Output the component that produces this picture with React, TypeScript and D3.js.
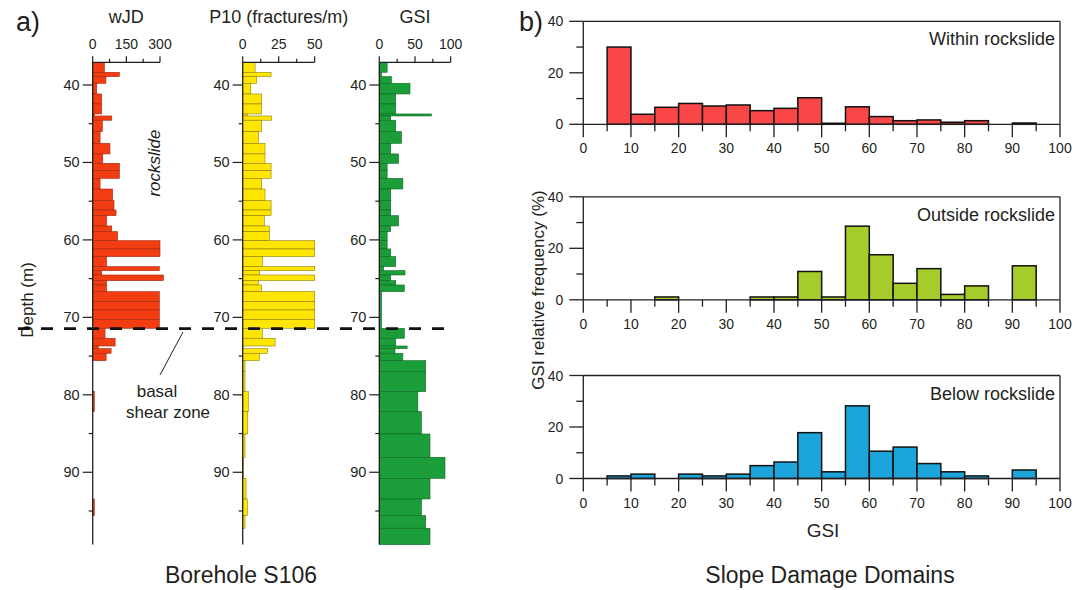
import React from "react";
import * as d3 from "d3";

// ---- Borehole S106: logged intervals (depth in m) and their values ----
const intervalTop = [
  37.07, 38.36, 38.92, 39.78, 41.16, 42.45, 43.74, 44.0, 44.55, 46.02, 47.53, 48.9,
  50.11, 51.06, 52.05, 53.43, 54.93, 56.14, 56.87, 58.2, 58.93, 60.1, 61.17, 62.16,
  63.45, 63.97, 64.53, 65.26, 65.82, 66.68, 67.97, 69.05, 70.25, 71.41, 72.7, 73.7,
  74.04, 74.64, 75.59, 77.0, 79.59, 82.17, 85.06, 88.07, 90.78, 93.45, 95.6, 97.23,
];
const intervalBase = [
  38.36, 38.92, 39.78, 41.16, 42.45, 43.74, 44.0, 44.55, 46.02, 47.53, 48.9, 50.11,
  51.06, 52.05, 53.43, 54.93, 56.14, 56.87, 58.2, 58.93, 60.1, 61.17, 62.16, 63.45,
  63.97, 64.53, 65.26, 65.82, 66.68, 67.97, 69.05, 70.25, 71.41, 72.7, 73.7, 74.04,
  74.64, 75.59, 77.0, 79.59, 82.17, 85.06, 88.07, 90.78, 93.45, 95.6, 97.23, 99.34,
];
const wjdValues = [
  52, 119, 59, 18, 40, 40, 7, 85, 43, 33, 77, 45,
  119, 119, 33, 89, 95, 104, 62, 85, 111, 300, 300, 62,
  297, 40, 315, 62, 62, 297, 297, 297, 297, 55, 100, 25,
  82, 60, 0, 0, 7, 0, 0, 0, 0, 7, 0, 0,
];
const p10Values = [
  8.6, 19.7, 9.7, 5.6, 13.2, 13.2, 3.2, 20.1, 13.2, 10.9, 15.5, 15.5,
  19.7, 19.7, 13.2, 15.5, 19.7, 19.7, 15, 18.5, 18.5, 50, 50, 13.9,
  50, 11.6, 50, 10.9, 13.2, 50, 50, 50, 50, 13.7, 22.5, 0.5,
  17.1, 11.6, 1.6, 1.6, 3.9, 3.5, 1.6, 0.5, 2.3, 3.2, 1.6, 0,
];
const gsiValues = [
  11, 3, 17, 43, 23, 23, 73, 16, 23, 31, 16, 27,
  11, 11, 33, 16, 16, 16, 27, 16, 11, 11, 16, 23,
  6, 36, 16, 23, 35, 3, 3, 3, 3, 35, 23, 39,
  22, 33, 65, 65, 54, 59, 71, 92, 71, 59, 65, 71,
];
const basalShearDepth = 71.45;

const depthMajorTicks = [40, 50, 60, 70, 80, 90];
const depthMinorTicks = [45, 55, 65, 75, 85, 95];
const wjdTicks = [0, 150, 300];
const wjdMinorTicks = [75, 225];
const p10Ticks = [0, 25, 50];
const p10MinorTicks = [12.5, 37.5];
const gsiTicks = [0, 50, 100];
const gsiMinorTicks = [25, 75];

// ---- Slope damage domains: GSI histograms (5-unit bins, % of intervals) ----
const gsiBinStart = [0, 5, 10, 15, 20, 25, 30, 35, 40, 45, 50, 55, 60, 65, 70, 75, 80, 85, 90, 95];
const withinFreq = [0, 30, 3.9, 6.6, 8.1, 7.1, 7.5, 5.3, 6.2, 10.3, 0.4, 6.8, 3.0, 1.4, 1.7, 0.8, 1.4, 0, 0.5, 0];
const outsideFreq = [0, 0, 0, 1.1, 0, 0, 0, 1.1, 1.1, 11.0, 1.1, 28.6, 17.5, 6.4, 12.1, 2.1, 5.4, 0, 13.2, 0];
const belowFreq = [0, 1.0, 1.7, 0, 1.7, 1.0, 1.7, 5.0, 6.4, 17.8, 2.6, 28.2, 10.6, 12.2, 5.8, 2.6, 1.0, 0, 3.3, 0];
const gsiAxisTicks = [0, 10, 20, 30, 40, 50, 60, 70, 80, 90, 100];
const freqTicks = [0, 20, 40];
const freqMinorTicks = [10, 30];

const FONT = "'Liberation Sans', Arial, Helvetica, sans-serif";
const INK = "#231f20";

const yDepth = d3
  .scaleLinear()
  .domain([intervalTop[0], intervalBase[intervalBase.length - 1]])
  .range([62.3, 544.6]);

type ColumnProps = {
  values: number[];
  domain: [number, number];
  x0: number;
  x1: number;
  ticks: number[];
  minorTicks: number[];
  fill: string;
  stroke: string;
  title: string;
};

function LogColumn({ values, domain, x0, x1, ticks, minorTicks, fill, stroke, title }: ColumnProps) {
  const x = d3.scaleLinear().domain(domain).range([x0, x1]);
  const [yTop, yBot] = yDepth.range();
  return (
    <g>
      {values.map((v, i) =>
        v > 0 ? (
          <rect
            key={i}
            x={x(0)}
            y={yDepth(intervalTop[i])}
            width={x(v) - x(0)}
            height={yDepth(intervalBase[i]) - yDepth(intervalTop[i])}
            fill={fill}
            stroke={stroke}
            strokeWidth={0.6}
          />
        ) : null
      )}
      {/* value axis along the top */}
      <line x1={x(domain[0])} x2={x(domain[1])} y1={yTop} y2={yTop} stroke={INK} strokeWidth={1.2} />
      {ticks.map((t) => (
        <g key={t}>
          <line x1={x(t)} x2={x(t)} y1={yTop} y2={yTop - 6} stroke={INK} strokeWidth={1.2} />
          <text x={x(t)} y={48.5} fontSize={14} textAnchor="middle" fill={INK}>
            {t}
          </text>
        </g>
      ))}
      {minorTicks.map((t) => (
        <line key={t} x1={x(t)} x2={x(t)} y1={yTop} y2={yTop - 3.5} stroke={INK} strokeWidth={1.2} />
      ))}
      <text x={(x0 + x1) / 2} y={23} fontSize={18} textAnchor="middle" fill={INK}>
        {title}
      </text>
      {/* depth axis */}
      <line x1={x0} x2={x0} y1={yTop} y2={yBot} stroke={INK} strokeWidth={1.3} />
      {depthMajorTicks.map((d) => (
        <g key={d}>
          <line x1={x0 - 10} x2={x0} y1={yDepth(d)} y2={yDepth(d)} stroke={INK} strokeWidth={1.2} />
          <text x={x0 - 13} y={yDepth(d) + 5} fontSize={14.5} textAnchor="end" fill={INK}>
            {d}
          </text>
        </g>
      ))}
      {depthMinorTicks.map((d) => (
        <line key={d} x1={x0 - 4} x2={x0} y1={yDepth(d)} y2={yDepth(d)} stroke={INK} strokeWidth={1.2} />
      ))}
    </g>
  );
}

const xGsi = d3.scaleLinear().domain([0, 100]).range([583.3, 1060]);

type HistProps = { freq: number[]; zeroY: number; fill: string; label: string };

function Histogram({ freq, zeroY, fill, label }: HistProps) {
  const y = d3.scaleLinear().domain([0, 40]).range([zeroY, zeroY - 103]);
  const left = xGsi(0);
  const right = xGsi(100);
  return (
    <g>
      {freq.map((f, i) =>
        f > 0 ? (
          <rect
            key={i}
            x={xGsi(gsiBinStart[i])}
            y={y(f)}
            width={xGsi(gsiBinStart[i] + 5) - xGsi(gsiBinStart[i])}
            height={y(0) - y(f)}
            fill={fill}
            stroke="#111"
            strokeWidth={1.5}
          />
        ) : null
      )}
      {/* frame */}
      <line x1={left} x2={right} y1={y(40)} y2={y(40)} stroke={INK} strokeWidth={1.3} />
      <line x1={right} x2={right} y1={y(40)} y2={y(0)} stroke={INK} strokeWidth={1.3} />
      <line x1={left} x2={left} y1={y(40)} y2={y(0)} stroke={INK} strokeWidth={1.3} />
      <line x1={left} x2={right} y1={y(0)} y2={y(0)} stroke={INK} strokeWidth={1.3} />
      {freqTicks.map((t) => (
        <g key={t}>
          <line x1={left - 14} x2={left} y1={y(t)} y2={y(t)} stroke={INK} strokeWidth={1.3} />
          <text x={left - 20} y={y(t) + 5} fontSize={14} textAnchor="end" fill={INK}>
            {t}
          </text>
        </g>
      ))}
      {freqMinorTicks.map((t) => (
        <line key={t} x1={left - 7} x2={left} y1={y(t)} y2={y(t)} stroke={INK} strokeWidth={1.3} />
      ))}
      {gsiBinStart.concat([100]).map((b) => (
        <line
          key={b}
          x1={xGsi(b)}
          x2={xGsi(b)}
          y1={y(0)}
          y2={y(0) + (b % 10 === 0 ? 13 : 7)}
          stroke={INK}
          strokeWidth={1.3}
        />
      ))}
      {gsiAxisTicks.map((t) => (
        <text key={t} x={xGsi(t)} y={y(0) + 29} fontSize={14} textAnchor="middle" fill={INK}>
          {t}
        </text>
      ))}
      <text x={1055} y={y(40) + 24} fontSize={18} textAnchor="end" fill={INK}>
        {label}
      </text>
    </g>
  );
}

export default function App() {
  const dashY = yDepth(basalShearDepth);
  return (
    <svg
      width={1086}
      height={590}
      style={{ position: "absolute", left: 0, top: 0, background: "#fff" }}
      fontFamily={FONT}
    >
      <rect x={0} y={0} width={1086} height={590} fill="#fff" />
      <text x={16} y={31} fontSize={27} fill={INK}>
        a)
      </text>
      <text x={519} y={31} fontSize={27} fill={INK}>
        b)
      </text>

      <LogColumn
        values={wjdValues}
        domain={[0, 300]}
        x0={92.7}
        x1={160}
        ticks={wjdTicks}
        minorTicks={wjdMinorTicks}
        fill="#f23c12"
        stroke="#a3290e"
        title="wJD"
      />
      <LogColumn
        values={p10Values}
        domain={[0, 50]}
        x0={242.7}
        x1={314.7}
        ticks={p10Ticks}
        minorTicks={p10MinorTicks}
        fill="#ffe600"
        stroke="#8f7f10"
        title="P10 (fractures/m)"
      />
      <LogColumn
        values={gsiValues}
        domain={[0, 100]}
        x0={379.3}
        x1={450.7}
        ticks={gsiTicks}
        minorTicks={gsiMinorTicks}
        fill="#1b9e3a"
        stroke="#0d6a24"
        title="GSI"
      />

      <text transform="translate(33,300) rotate(-90)" fontSize={17} textAnchor="middle" fill={INK}>
        Depth (m)
      </text>
      <text
        transform="translate(160,163) rotate(-90)"
        fontSize={17}
        fontStyle="italic"
        textAnchor="middle"
        fill={INK}
      >
        rockslide
      </text>

      {/* basal shear zone marker */}
      <line x1={18} x2={455} y1={dashY} y2={dashY} stroke="#111" strokeWidth={2.6} strokeDasharray="12 11" />
      <line x1={183} y1={332} x2={160} y2={375} stroke={INK} strokeWidth={1} />
      <text x={157} y={397} fontSize={17} textAnchor="middle" fill={INK}>
        basal
      </text>
      <text x={168} y={418} fontSize={17} textAnchor="middle" fill={INK}>
        shear zone
      </text>

      <text x={241} y={583} fontSize={23} textAnchor="middle" fill={INK}>
        Borehole S106
      </text>

      <Histogram freq={withinFreq} zeroY={124.3} fill="#f94646" label="Within rockslide" />
      <Histogram freq={outsideFreq} zeroY={299.8} fill="#a5cc2b" label="Outside rockslide" />
      <Histogram freq={belowFreq} zeroY={478.5} fill="#1ba5db" label="Below rockslide" />

      <text transform="translate(544,290) rotate(-90)" fontSize={17} textAnchor="middle" fill={INK}>
        GSI relative frequency (%)
      </text>
      <text x={823} y={537} fontSize={19} textAnchor="middle" fill={INK}>
        GSI
      </text>
      <text x={830} y={583} fontSize={23} textAnchor="middle" fill={INK}>
        Slope Damage Domains
      </text>
    </svg>
  );
}
